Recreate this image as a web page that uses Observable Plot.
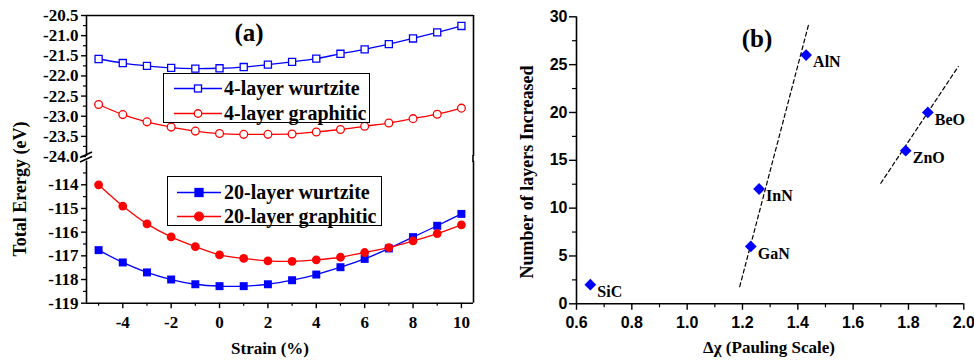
<!DOCTYPE html>
<html>
<head>
<meta charset="utf-8">
<script src="https://cdn.jsdelivr.net/npm/d3@7"></script>
<script src="https://cdn.jsdelivr.net/npm/@observablehq/plot@0.6"></script>
<style>
  html, body { margin: 0; padding: 0; background: white; }
  #wrap { position: relative; width: 974px; height: 362px; overflow: hidden; background: white; }
  #wrap > * { position: absolute; }
  .serif { font-family: "Liberation Serif", "Times New Roman", serif; font-weight: bold; color: black; }
  .rot { white-space: nowrap; transform: translate(-50%, -50%) rotate(-90deg); }
  .ctr { white-space: nowrap; transform: translate(-50%, 0); }
  .legend { border: 1px solid black; background: white; box-sizing: border-box; }
  .legend span { position: absolute; white-space: nowrap; line-height: 1; }
  .legend svg { position: absolute; left: 0; top: 0; overflow: visible; }
</style>
</head>
<body>
<div id="wrap"></div>
<script>
// ---------- data ----------
const strain = [-5, -4, -3, -2, -1, 0, 1, 2, 3, 4, 5, 6, 7, 8, 9, 10];
const wurtzite4  = [-21.58, -21.68, -21.75, -21.80, -21.82, -21.81, -21.78, -21.72, -21.65, -21.57, -21.45, -21.34, -21.21, -21.07, -20.92, -20.76];
const graphitic4 = [-22.71, -22.96, -23.14, -23.27, -23.37, -23.43, -23.45, -23.45, -23.44, -23.39, -23.33, -23.25, -23.17, -23.06, -22.95, -22.80];
const wurtzite20  = [-116.76, -117.28, -117.70, -118.00, -118.20, -118.28, -118.28, -118.20, -118.03, -117.79, -117.48, -117.13, -116.69, -116.21, -115.73, -115.23];
const graphitic20 = [-114.00, -114.90, -115.65, -116.20, -116.61, -116.96, -117.11, -117.21, -117.23, -117.17, -117.06, -116.86, -116.65, -116.37, -116.06, -115.69];

const upperTicks = [-20.5, -21.0, -21.5, -22.0, -22.5, -23.0, -23.5, -24.0];
const upperMinor = [-20.75, -21.25, -21.75, -22.25, -22.75, -23.25, -23.75];
const lowerTicks = [-114, -115, -116, -117, -118, -119];
const lowerMinor = [-113.5, -114.5, -115.5, -116.5, -117.5, -118.5];
const strainTicks = [-4, -2, 0, 2, 4, 6, 8, 10];
const strainMinor = [-5, -3, -1, 1, 3, 5, 7, 9];

const materials = ["SiC", "GaN", "InN", "AlN", "ZnO", "BeO"];
const deltaChi  = [0.65, 1.23, 1.26, 1.43, 1.79, 1.87];
const layers    = [2, 6, 12, 26, 16, 20];
const fit1X = [1.19, 1.44], fit1Y = [1.8, 29.3];
const fit2X = [1.70, 1.98], fit2Y = [12.6, 24.8];
const chiTicks = [0.6, 0.8, 1.0, 1.2, 1.4, 1.6, 1.8, 2.0];
const chiMinor = [0.7, 0.9, 1.1, 1.3, 1.5, 1.7, 1.9];
const layerTicks = [0, 5, 10, 15, 20, 25, 30];
const layerMinor = [2.5, 7.5, 12.5, 17.5, 22.5, 27.5];

// ---------- tables ----------
const rows = strain.map((s, i) => ({s, w4: wurtzite4[i], g4: graphitic4[i], w20: wurtzite20[i], g20: graphitic20[i]}));
const pts = materials.map((m, i) => ({m, x: deltaChi[i], y: layers[i]}));
const fit1 = fit1X.map((x, i) => ({x, y: fit1Y[i]}));
const fit2 = fit2X.map((x, i) => ({x, y: fit2Y[i]}));

const BLUE = "#0000ff", RED = "#ff0000";
const SERIF = "'Liberation Serif', 'Times New Roman', serif";
const SANS = "'Liberation Sans', Arial, sans-serif";
const xDom = [-5.5, 10.5];
const svgStyle = {background: "transparent", overflow: "visible", color: "black"};

const wrap = document.getElementById("wrap");
function place(el, left, top) { el.style.position = "absolute"; el.style.left = left + "px"; el.style.top = top + "px"; wrap.appendChild(el); return el; }

const yAxisOpts = {tickSize: 5, tickPadding: 3, strokeWidth: 1.4, fontSize: 17, fontWeight: "bold", fontFamily: SERIF, label: null};

// ---------- (a) upper part ----------
const upper = Plot.plot({
  width: 500, height: 158, marginLeft: 86, marginRight: 27, marginTop: 15, marginBottom: 2,
  style: svgStyle,
  x: {domain: xDom, axis: null},
  y: {domain: [-24, -20.5]},
  marks: [
    Plot.axisY({...yAxisOpts, ticks: upperTicks, tickFormat: d => d.toFixed(1)}),
    Plot.axisY({ticks: upperMinor, tickSize: 3, strokeWidth: 1.2, tickFormat: () => "", label: null}),
    Plot.ruleX([xDom[0]], {strokeWidth: 1.6}),
    Plot.ruleX([xDom[1]], {strokeWidth: 1.6}),
    Plot.ruleY([-20.5], {strokeWidth: 1.6}),
    Plot.line(rows, {x: "s", y: "w4", stroke: BLUE, strokeWidth: 1.3, curve: "catmull-rom"}),
    Plot.line(rows, {x: "s", y: "g4", stroke: RED, strokeWidth: 1.3, curve: "catmull-rom"}),
    Plot.dot(rows, {x: "s", y: "w4", symbol: "square", r: 4, stroke: BLUE, fill: "white", strokeWidth: 1.3}),
    Plot.dot(rows, {x: "s", y: "g4", symbol: "circle", r: 3.9, stroke: RED, fill: "white", strokeWidth: 1.3})
  ]
});
place(upper, 0, 0);

// ---------- (a) lower part ----------
const lower = Plot.plot({
  width: 500, height: 204, marginLeft: 86, marginRight: 27, marginTop: 2.6, marginBottom: 59.3,
  style: svgStyle,
  x: {domain: xDom},
  y: {domain: [-119, -113]},
  marks: [
    Plot.axisY({...yAxisOpts, ticks: lowerTicks, tickFormat: d => String(d)}),
    Plot.axisY({ticks: lowerMinor, tickSize: 3, strokeWidth: 1.2, tickFormat: () => "", label: null}),
    Plot.axisX({ticks: strainTicks, tickSize: 5.5, tickPadding: 7, strokeWidth: 1.4, fontSize: 17, fontWeight: "bold", fontFamily: SERIF, tickFormat: d => String(d), label: null}),
    Plot.axisX({ticks: strainMinor, tickSize: 3, strokeWidth: 1.2, tickFormat: () => "", label: null}),
    Plot.ruleX([xDom[0]], {strokeWidth: 1.6}),
    Plot.ruleX([xDom[1]], {strokeWidth: 1.6}),
    Plot.ruleY([-119], {strokeWidth: 1.6}),
    Plot.line(rows, {x: "s", y: "w20", stroke: BLUE, strokeWidth: 1.3, curve: "catmull-rom"}),
    Plot.line(rows, {x: "s", y: "g20", stroke: RED, strokeWidth: 1.3, curve: "catmull-rom"}),
    Plot.dot(rows, {x: "s", y: "w20", symbol: "square", r: 4.5, fill: BLUE}),
    Plot.dot(rows, {x: "s", y: "g20", symbol: "circle", r: 4.4, fill: RED})
  ]
});
place(lower, 0, 158);

// axis break decoration (left axis) and continuation of right frame
const ns = "http://www.w3.org/2000/svg";
const deco = document.createElementNS(ns, "svg");
deco.setAttribute("width", "974"); deco.setAttribute("height", "362");
deco.style.pointerEvents = "none";
deco.innerHTML = `
  <line x1="80" y1="157.5" x2="92" y2="152" stroke="black" stroke-width="1.6"/>
  <line x1="80" y1="162" x2="92" y2="156.5" stroke="black" stroke-width="1.6"/>
  <line x1="473" y1="155" x2="473" y2="162" stroke="black" stroke-width="1.6"/>`;
place(deco, 0, 0);

// ---------- (b) ----------
const right = Plot.plot({
  width: 474, height: 362, marginLeft: 76, marginRight: 10.7, marginTop: 16.3, marginBottom: 58.7,
  style: svgStyle,
  x: {domain: [0.6, 2.0]},
  y: {domain: [0, 30]},
  marks: [
    Plot.axisY({ticks: layerTicks, tickSize: 7, tickPadding: 2, strokeWidth: 1.4, fontSize: 16, fontWeight: "bold", fontFamily: SANS, tickFormat: d => String(d), label: null}),
    Plot.axisY({ticks: layerMinor, tickSize: 4, strokeWidth: 1.2, tickFormat: () => "", label: null}),
    Plot.axisX({ticks: chiTicks, tickSize: 6.5, tickPadding: 6, strokeWidth: 1.4, fontSize: 16, fontWeight: "bold", fontFamily: SANS, tickFormat: d => d.toFixed(1), label: null}),
    Plot.axisX({ticks: chiMinor, tickSize: 4, strokeWidth: 1.2, tickFormat: () => "", label: null}),
    Plot.ruleX([0.6], {strokeWidth: 1.6}),
    Plot.ruleY([0], {strokeWidth: 1.6}),
    Plot.line(fit1, {x: "x", y: "y", stroke: "black", strokeWidth: 1.2, strokeDasharray: "4,3"}),
    Plot.line(fit2, {x: "x", y: "y", stroke: "black", strokeWidth: 1.2, strokeDasharray: "4,3"}),
    Plot.dot(pts, {x: "x", y: "y", symbol: "diamond2", r: 5.3, fill: BLUE}),
    Plot.text(pts, {x: "x", y: "y", text: "m", dx: 7, dy: 7, textAnchor: "start", fontSize: 16, fontWeight: "bold", fontFamily: SERIF, fill: "black"})
  ]
});
place(right, 500, 0);

// ---------- text ----------
function label(txt, cls, left, top, size) {
  const d = document.createElement("div");
  d.className = "serif " + cls;
  d.textContent = txt;
  d.style.fontSize = size + "px";
  d.style.lineHeight = "1";
  return place(d, left, top);
}
label("(a)", "ctr", 249, 20, 25);
label("(b)", "ctr", 757, 26, 25);
label("Strain (%)", "ctr", 270, 340, 17);
label("\u0394\u03c7 (Pauling Scale)", "ctr", 769, 339, 17);
label("Total Erergy (eV)", "rot", 20, 188.5, 18);
label("Number of layers Increased", "rot", 527, 171.5, 18);

// ---------- legends ----------
function legend(left, top, w, h, entries, lx1, lx2, mx, tx) {
  const box = document.createElement("div");
  box.className = "legend serif";
  box.style.width = w + "px"; box.style.height = h + "px";
  const svg = document.createElementNS(ns, "svg");
  svg.setAttribute("width", w); svg.setAttribute("height", h);
  let inner = "";
  entries.forEach(e => {
    inner += `<line x1="${lx1}" x2="${lx2}" y1="${e.cy}" y2="${e.cy}" stroke="${e.color}" stroke-width="1.3"/>`;
    if (e.shape === "square") {
      const s = e.size;
      inner += `<rect x="${mx - s/2}" y="${e.cy - s/2}" width="${s}" height="${s}" fill="${e.fill}" stroke="${e.color}" stroke-width="1.3"/>`;
    } else {
      inner += `<circle cx="${mx}" cy="${e.cy}" r="${e.size/2}" fill="${e.fill}" stroke="${e.color}" stroke-width="1.3"/>`;
    }
  });
  svg.innerHTML = inner;
  box.appendChild(svg);
  entries.forEach(e => {
    const sp = document.createElement("span");
    sp.textContent = e.text;
    sp.style.left = tx + "px";
    sp.style.top = (e.cy - 10.5) + "px";
    sp.style.fontSize = "20px";
    box.appendChild(sp);
  });
  return place(box, left, top);
}
legend(163, 72.5, 207, 50.5, [
  {text: "4-layer wurtzite", color: BLUE, fill: "white", shape: "square", size: 7, cy: 14.5},
  {text: "4-layer graphitic", color: RED, fill: "white", shape: "circle", size: 7.5, cy: 39.5}
], 10, 58, 34, 60);
legend(167, 175.5, 215, 50, [
  {text: "20-layer wurtzite", color: BLUE, fill: BLUE, shape: "square", size: 8, cy: 15.5},
  {text: "20-layer graphitic", color: RED, fill: RED, shape: "circle", size: 8.7, cy: 39.5}
], 9, 53, 31, 56);
</script>
</body>
</html>
